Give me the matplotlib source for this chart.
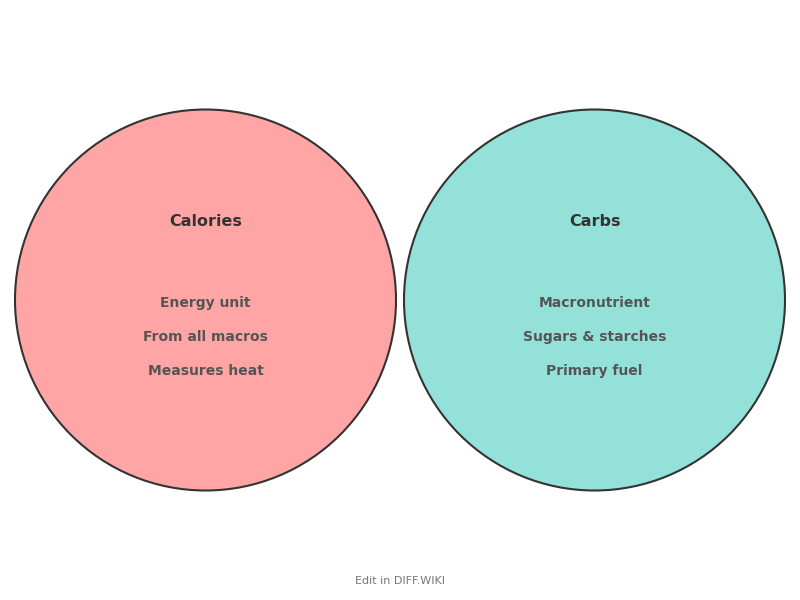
import matplotlib
matplotlib.use("Agg")
import matplotlib.pyplot as plt
from matplotlib.patches import Circle

titles = ["Calories", "Carbs"]
items = [["Energy unit", "From all macros", "Measures heat"],
         ["Macronutrient", "Sugars & starches", "Primary fuel"]]
colors = ["#ffa5a5", "#94e1da"]
centers = [205.5, 594.5]

fig = plt.figure(figsize=(8, 6), dpi=100)
ax = fig.add_axes([0, 0, 1, 1])
ax.set_xlim(0, 800)
ax.set_ylim(600, 0)
ax.axis("off")
for cx, t, its, c in zip(centers, titles, items, colors):
    ax.add_patch(Circle((cx, 300), 190.5, facecolor=c, edgecolor="#333333", lw=1.5))
    ax.text(cx, 222, t, ha="center", va="center", fontsize=11.5, fontweight="bold", color="#333333")
    for i, s in enumerate(its):
        ax.text(cx, 303 + 34 * i, s, ha="center", va="center", fontsize=10, fontweight="bold", color="#555555")
ax.text(400, 581, "Edit in DIFF.WIKI", ha="center", va="center", fontsize=8, color="#777777")
fig.savefig("out.png")
